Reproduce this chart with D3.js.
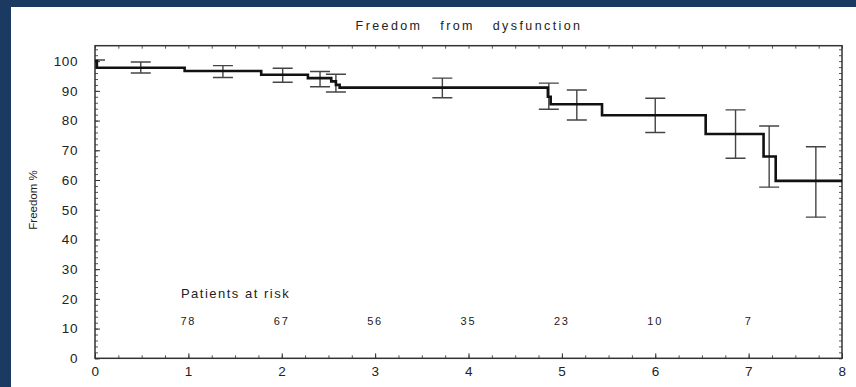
<!doctype html>
<html>
  <head>
    <script src="https://cdn.jsdelivr.net/npm/d3@7"></script>
    <style>
      body { margin:0; background:#fff; }
      text { font-family:"Liberation Sans", Arial, sans-serif; fill:#222; }
    </style>
  </head>
  <body>
    <script>
      // step curve (years, freedom %)
      var stepX = [0, 0.02, 0.96, 1.78, 2.28, 2.53, 2.58, 2.62, 4.85, 4.88, 5.43, 6.54, 7.16, 7.29, 8];
      var stepY = [100, 97.8, 96.7, 95.4, 94.3, 93.2, 92.0, 91.1, 88.0, 85.5, 81.8, 75.5, 67.9, 59.7, 59.7];

      // confidence bars
      var barX  = [0, 0.49, 1.37, 2.01, 2.41, 2.58, 3.72, 4.86, 5.16, 6.0, 6.86, 7.22, 7.72];
      var barHi = [100.4, 99.7, 98.5, 97.6, 96.5, 95.6, 94.3, 92.6, 90.3, 87.5, 83.6, 78.2, 71.2];
      var barLo = [97.8, 96.0, 94.5, 92.9, 91.4, 89.6, 87.7, 83.8, 80.2, 76.0, 67.3, 57.6, 47.5];

      var riskYears = [1, 2, 3, 4, 5, 6, 7];
      var riskCount = [78, 67, 56, 35, 23, 10, 7];

      var xTicks = [0, 1, 2, 3, 4, 5, 6, 7, 8];
      var yTicks = [0, 10, 20, 30, 40, 50, 60, 70, 80, 90, 100];

      var w_svg = 856, h_svg = 387;
      var left = 95, right = 842, top_ = 45.7, bottom = 358.3;

      var svg = d3.select("body").append("svg")
                  .attr("width", w_svg)
                  .attr("height", h_svg);

      // navy frame of the slide
      svg.append("rect").attr("x",0).attr("y",0).attr("width",w_svg).attr("height",7).attr("fill","#1a3a62");
      svg.append("rect").attr("x",0).attr("y",0).attr("width",11).attr("height",h_svg).attr("fill","#1a3a62");

      var x = d3.scaleLinear().domain([0, 8]).range([left, right]);
      var y = d3.scaleLinear().domain([0, 105.2]).range([bottom, top_]);

      // minor ticks
      var g = svg.append("g");
      g.call(function(s){
        s.append("g").attr("transform","translate(0,"+bottom+")")
         .call(d3.axisBottom(x).tickValues(d3.range(0, 8.01, 0.25)).tickSize(-3).tickFormat(""));
        s.append("g").attr("transform","translate(0,"+top_+")")
         .call(d3.axisTop(x).tickValues(d3.range(0, 8.01, 0.25)).tickSize(-3).tickFormat(""));
        s.append("g").attr("transform","translate("+left+",0)")
         .call(d3.axisLeft(y).tickValues(d3.range(0, 105, 2)).tickSize(-3).tickFormat(""));
        s.append("g").attr("transform","translate("+right+",0)")
         .call(d3.axisRight(y).tickValues(d3.range(0, 105, 2)).tickSize(-3).tickFormat(""));
      });
      g.selectAll("path").remove();
      g.selectAll("line").attr("stroke","#555").attr("stroke-width",1);

      // major axes with labels
      var xa = svg.append("g").attr("transform","translate(0,"+bottom+")")
                  .call(d3.axisBottom(x).tickValues(xTicks).tickSize(-5).tickPadding(6).tickFormat(d3.format("d")));
      var ya = svg.append("g").attr("transform","translate("+left+",0)")
                  .call(d3.axisLeft(y).tickValues(yTicks).tickSize(-5).tickPadding(17).tickFormat(d3.format("d")));
      [xa, ya].forEach(function(a){
        a.select(".domain").remove();
        a.selectAll("line").attr("stroke","#333");
        a.selectAll("text").attr("font-size",13.5).attr("fill","#222").attr("letter-spacing",0.6)
         .style("font-family","'Liberation Sans', Arial, sans-serif");
      });
      xa.selectAll("text").attr("dy","0.9em");

      // plot frame
      svg.append("rect")
         .attr("x", left).attr("y", top_)
         .attr("width", right-left).attr("height", bottom-top_)
         .attr("fill","none").attr("stroke","#333").attr("stroke-width",1.5);

      // error bars
      var clip = svg.append("clipPath").attr("id","clip").append("rect")
                    .attr("x", left).attr("y", top_).attr("width", right-left).attr("height", bottom-top_);
      var bars = svg.append("g").attr("clip-path","url(#clip)")
                    .selectAll("g").data(barX).enter().append("g");
      bars.append("line")
          .attr("x1", function(d){ return x(d); }).attr("x2", function(d){ return x(d); })
          .attr("y1", function(d,i){ return y(barHi[i]); }).attr("y2", function(d,i){ return y(barLo[i]); });
      bars.append("line")
          .attr("x1", function(d){ return x(d)-10; }).attr("x2", function(d){ return x(d)+10; })
          .attr("y1", function(d,i){ return y(barHi[i]); }).attr("y2", function(d,i){ return y(barHi[i]); });
      bars.append("line")
          .attr("x1", function(d){ return x(d)-10; }).attr("x2", function(d){ return x(d)+10; })
          .attr("y1", function(d,i){ return y(barLo[i]); }).attr("y2", function(d,i){ return y(barLo[i]); });
      bars.selectAll("line").attr("stroke","#444").attr("stroke-width",1.4);

      // survival step line
      var line = d3.line()
                   .x(function(d){ return x(d[0]); })
                   .y(function(d){ return y(d[1]); })
                   .curve(d3.curveStepAfter);
      svg.append("path")
         .datum(stepX.map(function(d,i){ return [d, stepY[i]]; }))
         .attr("d", line)
         .attr("fill","none").attr("stroke","#111").attr("stroke-width",2.6);

      // titles
      svg.append("text").text("Freedom from dysfunction")
         .attr("x", 469).attr("y", 30).attr("text-anchor","middle")
         .attr("font-size",12.5).attr("letter-spacing",2.4).attr("word-spacing",12);
      svg.append("text").text("Freedom %")
         .attr("transform","translate(37,200) rotate(-90)").attr("text-anchor","middle")
         .attr("font-size",11.5);

      // patients at risk
      svg.append("text").text("Patients at risk")
         .attr("x", x(0.92)).attr("y", 298)
         .attr("font-size",13).attr("letter-spacing",1.5);
      svg.selectAll(".risk").data(riskYears).enter().append("text")
         .attr("class","risk")
         .attr("x", function(d){ return x(d); }).attr("y", 325)
         .attr("text-anchor","middle").attr("font-size",11).attr("letter-spacing",1.8)
         .text(function(d,i){ return riskCount[i]; });
    </script>
  </body>
</html>
